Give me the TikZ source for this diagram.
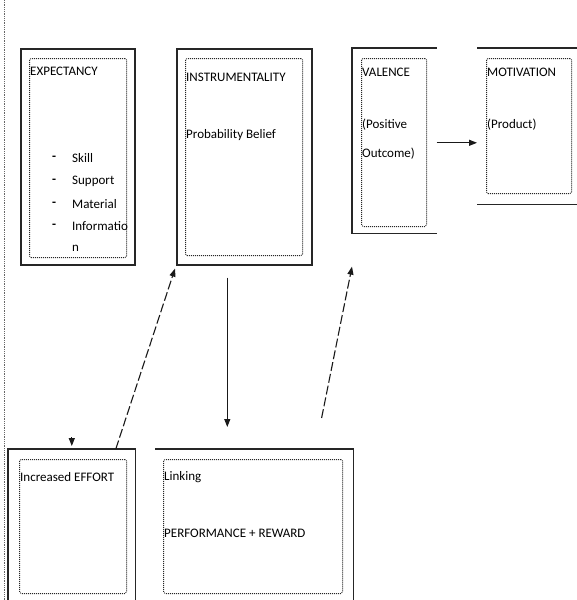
\documentclass[tikz,border=0pt]{standalone}
\usepackage{fontspec}
\setmainfont{Carlito}
\usetikzlibrary{calc,arrows.meta,positioning}

\tikzset{
  outbox/.style={draw=black!85,line width=1.6pt,anchor=north west,inner sep=0pt},
  outline/.style={draw=black!85,line width=1.6pt},
  inbox/.style={draw=black!85,densely dotted,line width=1pt,rounded corners=1.5pt,anchor=north west,inner sep=0pt},
  lbl/.style={anchor=west,inner sep=0pt,font=\fontsize{13}{15}\selectfont,text=black},
  conn/.style={-{Triangle[length=8pt,width=6pt]},line width=1.1pt,black!90},
  dashconn/.style={conn,dash pattern=on 9pt off 3pt}
}

\begin{document}
\begin{tikzpicture}[x=1pt,y=-1pt]
            \useasboundingbox (0,0) rectangle (577,600);
            \draw[densely dotted,black!60,line width=0.8pt] (4,0) -- (4,600);

            \node[outbox,minimum width=114pt,minimum height=216pt] (expbox) at (20,48) {};
            \node[outbox,minimum width=135pt,minimum height=216pt] (insbox) at (176,48) {};
            \node[outbox,draw=none,minimum width=83pt,minimum height=184pt] (valbox) at (352,48) {};
            \node[outbox,draw=none,minimum width=100pt,minimum height=155pt] (motbox) at (477,48) {};
            \node[outbox,draw=none,minimum width=126pt,minimum height=152pt] (effbox) at (8,449) {};
            \node[outbox,draw=none,minimum width=197pt,minimum height=152pt] (linkbox) at (155,449) {};

            \draw[outline] (valbox.north east) -- (valbox.north west) -- (valbox.south west) -- (valbox.south east);
            \draw[outline] (motbox.north west) -- (motbox.north east);
            \draw[outline] (motbox.south west) -- (motbox.south east);
            \draw[outline] (effbox.south west) -- (effbox.north west) -- (effbox.north east) -- (effbox.south east);
            \draw[outline] (linkbox.north west) -- (linkbox.north east) -- (linkbox.south east);

            \node[inbox,minimum width=97pt,minimum height=199pt] (expin) at (29,58) {};
            \node[inbox,minimum width=117pt,minimum height=197pt] (insin) at (185,58) {};
            \node[inbox,minimum width=65pt,minimum height=168pt] (valin) at (361,58) {};
            \node[inbox,minimum width=85pt,minimum height=135pt] (motin) at (486,58) {};
            \node[inbox,minimum width=107pt,minimum height=134pt] (effin) at (19,459) {};
            \node[inbox,minimum width=179pt,minimum height=134pt] (linkin) at (163,459) {};

            \node[lbl] (exptitle) at (30,71) {EXPECTANCY};
            \node[lbl] (skill) at (72,158) {Skill};
            \node[lbl] (support) at (72,181) {Support};
            \node[lbl] (material) at (72,204) {Material};
            \node[lbl] (info) at (72,226) {Informatio};
            \node[lbl] (infoend) at (72,248) {n};
            \foreach \item in {skill,support,material,info}
              \node[lbl,font=\fontsize{13}{15}\selectfont\bfseries] at ($(\item.west)+(-20,0)$) {-};

            \node[lbl] (institle) at (186,77) {INSTRUMENTALITY};
            \node[lbl] (belief) at (186,135) {Probability Belief};

            \node[lbl] (valtitle) at (362,72) {VALENCE};
            \node[lbl] (positive) at (362,125) {(Positive};
            \node[lbl] (outcome) at (362,154) {Outcome)};

            \node[lbl] (mottitle) at (487,72) {MOTIVATION};
            \node[lbl] (product) at (487,125) {(Product)};

            \node[lbl] (efftitle) at (20,477) {Increased EFFORT};
            \node[lbl] (linking) at (164,477) {Linking};
            \node[lbl] (perfreward) at (164,533) {PERFORMANCE + REWARD};

            \coordinate (efftip) at ($(effbox.north)+(0,-12)$);
            \draw[conn] (efftip) -- ($(effbox.north)+(0,-3)$);
            \draw[dashconn] ($(effbox.north)+(44,0)$) -- ($(insbox.south west)+(-1,3)$);
            \draw[conn] ($(insbox.south)+(-17,12)$) -- ($(linkbox.north)+(-27,-22)$);
            \draw[dashconn] ($(linkbox.north east)+(-32,-31)$) -- ($(valbox.south west)+(0,33)$);
            \draw[conn] ($(valbox.east)+(0,2)$) -- ($(valbox.east -| motbox.west)+(0,2)$);
\end{tikzpicture}
\end{document}
